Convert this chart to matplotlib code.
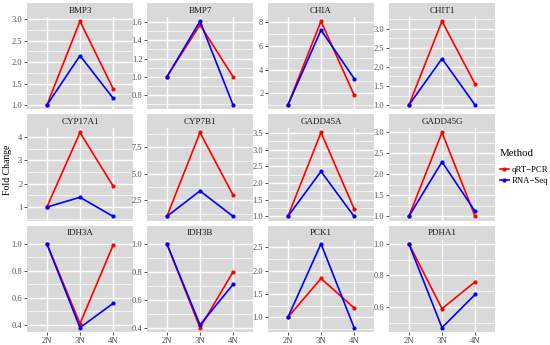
import numpy as np
import matplotlib
matplotlib.use("Agg")
import matplotlib.pyplot as plt
from matplotlib.lines import Line2D

plt.rcParams['font.family'] = ['Liberation Serif', 'DejaVu Serif']

stages = ["2N", "3N", "4N"]
genes = ["BMP3", "BMP7", "CHIA", "CHIT1",
         "CYP17A1", "CYP7B1", "GADD45A", "GADD45G",
         "IDH3A", "IDH3B", "PCK1", "PDHA1"]

qrt_pcr = {
    "BMP3": [1.0, 2.95, 1.38],
    "BMP7": [1.0, 1.57, 1.0],
    "CHIA": [1.0, 8.1, 1.85],
    "CHIT1": [1.0, 3.2, 1.55],
    "CYP17A1": [1.0, 4.2, 1.9],
    "CYP7B1": [1.0, 8.9, 3.0],
    "GADD45A": [1.0, 3.52, 1.23],
    "GADD45G": [1.0, 3.0, 1.0],
    "IDH3A": [1.0, 0.41, 0.99],
    "IDH3B": [1.0, 0.40, 0.80],
    "PCK1": [1.0, 1.83, 1.2],
    "PDHA1": [1.0, 0.59, 0.76],
}
rna_seq = {
    "BMP3": [1.0, 2.15, 1.16],
    "BMP7": [1.0, 1.61, 0.69],
    "CHIA": [1.0, 7.35, 3.25],
    "CHIT1": [1.0, 2.22, 1.0],
    "CYP17A1": [1.0, 1.42, 0.6],
    "CYP7B1": [1.0, 3.4, 1.0],
    "GADD45A": [1.0, 2.35, 1.0],
    "GADD45G": [1.0, 2.3, 1.12],
    "IDH3A": [1.0, 0.38, 0.56],
    "IDH3B": [1.0, 0.42, 0.71],
    "PCK1": [1.0, 2.57, 0.78],
    "PDHA1": [1.0, 0.47, 0.68],
}
y_ticks = {
    "BMP3": [1.0, 1.5, 2.0, 2.5, 3.0],
    "BMP7": [0.8, 1.0, 1.2, 1.4, 1.6],
    "CHIA": [2, 4, 6, 8],
    "CHIT1": [1.0, 1.5, 2.0, 2.5, 3.0],
    "CYP17A1": [1, 2, 3, 4],
    "CYP7B1": [2.5, 5.0, 7.5],
    "GADD45A": [1.0, 1.5, 2.0, 2.5, 3.0, 3.5],
    "GADD45G": [1.0, 1.5, 2.0, 2.5, 3.0],
    "IDH3A": [0.4, 0.6, 0.8, 1.0],
    "IDH3B": [0.4, 0.6, 0.8, 1.0],
    "PCK1": [1.0, 1.5, 2.0, 2.5],
    "PDHA1": [0.6, 0.8, 1.0],
}
methods = ["qRT\u2212PCR", "RNA\u2212Seq"]
colors = ["#FF0000", "#0000FF"]

W, H = 550, 345
fig = plt.figure(figsize=(W / 100, H / 100), dpi=100)
fig.patch.set_facecolor("white")

col_left = [27, 147, 268, 389]
panel_w = 106
row_top = [3, 114.3, 225.6]
strip_h = 14
panel_h = 92.3
bg = "#D9D9D9"

def fmt(v, ticks):
    if all(float(t).is_integer() for t in ticks):
        return "%d" % v
    return "%.1f" % v

for i, g in enumerate(genes):
    r, c = divmod(i, 4)
    x0 = col_left[c]
    ytop = row_top[r] + strip_h
    ax = fig.add_axes([x0 / W, 1 - (ytop + panel_h) / H, panel_w / W, panel_h / H])
    ax.set_facecolor(bg)
    xs = np.arange(1, 4)
    for vals, col in ((qrt_pcr[g], colors[0]), (rna_seq[g], colors[1])):
        ax.plot(xs, vals, color=col, lw=1.2, marker="o", ms=2.0, zorder=3,
                solid_joinstyle="miter")
    allv = qrt_pcr[g] + rna_seq[g]
    lo, hi = min(allv), max(allv)
    pad = 0.05 * (hi - lo)
    ax.set_ylim(lo - pad, hi + pad)
    ax.set_xlim(0.4, 3.6)
    tk = y_ticks[g]
    step = tk[1] - tk[0]
    ax.set_yticks(tk)
    ax.set_yticklabels([fmt(t, tk) for t in tk])
    minors = np.arange(tk[0] - step / 2, tk[-1] + step, step)
    ylo, yhi = ax.get_ylim()
    for m in minors:
        if ylo <= m <= yhi:
            ax.axhline(m, color="white", lw=0.5, zorder=1)
    for t in tk:
        ax.axhline(t, color="white", lw=1.0, zorder=1.5)
    for xv in xs:
        ax.axvline(xv, color="white", lw=1.0, zorder=1.5)
    for s in ax.spines.values():
        s.set_visible(False)
    ax.tick_params(axis="y", length=2.2, width=0.6, color="#333333",
                   labelsize=6, labelcolor="#4D4D4D", pad=1.2)
    ax.set_xticks(xs)
    if r == 2:
        ax.set_xticklabels(stages)
        ax.tick_params(axis="x", length=2.2, width=0.6, color="#333333",
                       labelsize=6.2, labelcolor="#4D4D4D", pad=1.2)
    else:
        ax.tick_params(axis="x", length=0, labelbottom=False)
    # strip
    sax = fig.add_axes([x0 / W, 1 - ytop / H, panel_w / W, strip_h / H])
    sax.set_facecolor(bg)
    sax.set_xticks([]); sax.set_yticks([])
    for s in sax.spines.values():
        s.set_visible(False)
    sax.text(0.5, 0.45, g, ha="center", va="center", fontsize=6.5,
             color="#1A1A1A", transform=sax.transAxes)

fig.text(8 / W, 1 - 170 / H, "Fold Change", rotation=90, ha="center",
         va="center", fontsize=7, color="black")

# legend
fig.text(500 / W, 1 - 153 / H, "Method", ha="left", va="center",
         fontsize=7.8, color="black")
handles = [Line2D([0], [0], color=c, lw=1.2, marker="o", ms=2.0) for c in colors]
leg = fig.legend(handles, methods, loc="upper left",
                 bbox_to_anchor=(499 / W, 1 - 165 / H), frameon=False,
                 fontsize=6.3, handlelength=1.0,
                 handletextpad=0.3, labelspacing=0.3, borderpad=0.1,
                 borderaxespad=0)

fig.savefig("out.png", dpi=100)
